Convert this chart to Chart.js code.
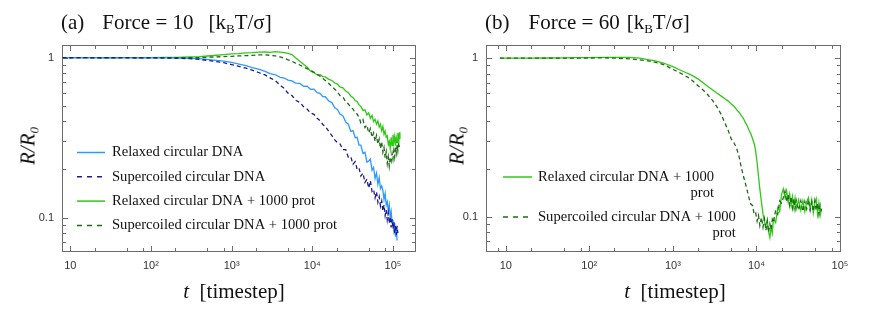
<!DOCTYPE html>
<html>
<head>
<meta charset="utf-8">
<script src="https://cdn.jsdelivr.net/npm/chart.js@4.4.1/dist/chart.umd.min.js"></script>
<style>
  body { margin: 0; background: #fff; }
  #wrap { position: relative; width: 872px; height: 312px; overflow: hidden; font-family: "Liberation Serif", "Times New Roman", serif; color: #111; }
  canvas { position: absolute; top: 0; }
  #chartA { left: 0; }
  #chartB { left: 440px; }
  .lbl { position: absolute; white-space: pre; font-size: 21px; line-height: 1; }
  .ytl { transform: translate(-50%, -50%) rotate(-90deg); font-style: italic; }
  .xtl { transform: translateX(-50%); }
  sub { font-size: 13px; vertical-align: -4px; line-height: 0; }
</style>
</head>
<body>
<div id="wrap">
  <canvas id="chartA" width="440" height="312"></canvas>
  <canvas id="chartB" width="432" height="312"></canvas>

  <div class="lbl" style="left:61px;top:12px">(a)<span style="margin-left:18px">Force = 10</span><span style="margin-left:15px">[k<sub>B</sub>T/σ]</span></div>
  <div class="lbl" style="left:485px;top:12px">(b)<span style="margin-left:19px">Force = 60</span><span style="margin-left:7px">[k<sub>B</sub>T/σ]</span></div>

  <div class="lbl ytl" style="left:28px;top:146px">R/R<sub>0</sub></div>
  <div class="lbl ytl" style="left:457px;top:146px">R/R<sub>0</sub></div>

  <div class="lbl xtl" style="left:234px;top:281px"><i>t</i>  [timestep]</div>
  <div class="lbl xtl" style="left:675px;top:281px"><i>t</i>  [timestep]</div>
</div>

<script>
// panel (a): Force = 10
const T_A = [8, 10, 15, 20, 30, 50, 70, 100, 150, 200,
  300, 400, 500, 600, 800, 1000, 1200, 1500, 1800, 2200,
  2600, 3000, 3500, 4000, 4500, 5000, 5600, 6200, 7000, 7800,
  8600, 9500, 10500, 11500, 12500, 13500, 14500, 16000, 17500, 19000,
  20500, 22000, 24000, 26000, 28000, 30000, 32000, 34000, 36000, 38000,
  40000, 42500, 45000, 47500, 50000, 52500, 55000, 57500, 60000, 62500,
  65000, 67500, 70000, 72500, 75000, 77500, 80000, 82500, 85000, 87500,
  90000, 92500, 95000, 97500, 100000, 102500, 105000, 107500, 110000, 112500,
  115000, 117500, 120000, 122000];

const RELAXED_A = [1.0, 1.0, 0.998, 1.0, 0.999, 1.0, 0.998, 0.999, 0.997, 0.995,
  0.99, 0.985, 0.975, 0.966, 0.952, 0.934, 0.915, 0.893, 0.868, 0.845,
  0.822, 0.796, 0.782, 0.754, 0.746, 0.724, 0.716, 0.694, 0.69, 0.662,
  0.664, 0.634, 0.636, 0.604, 0.598, 0.57, 0.57, 0.536, 0.524, 0.486,
  0.474, 0.444, 0.432, 0.396, 0.384, 0.346, 0.35, 0.316, 0.318, 0.284,
  0.284, 0.252, 0.256, 0.222, 0.226, 0.232, 0.198, 0.206, 0.176, 0.19,
  0.162, 0.178, 0.152, 0.158, 0.148, 0.13, 0.142, 0.12, 0.126, 0.11,
  0.12, 0.1, 0.109, 0.093, 0.097, 0.084, 0.093, 0.076, 0.086, 0.072,
  null, null, null, null];

const SUPER_A = [1.0, 0.999, 1.0, 0.998, 1.0, 0.999, 0.998, 0.997, 0.996, 0.992,
  0.985, 0.975, 0.962, 0.95, 0.93, 0.905, 0.885, 0.86, 0.835, 0.805,
  0.78, 0.748, 0.716, 0.672, 0.642, 0.6, 0.58, 0.542, 0.526, 0.494,
  0.478, 0.452, 0.442, 0.418, 0.404, 0.382, 0.372, 0.346, 0.326, 0.306,
  0.294, 0.29, 0.266, 0.266, 0.238, 0.24, 0.216, 0.224, 0.2, 0.204,
  0.182, 0.19, 0.166, 0.174, 0.153, 0.17, 0.146, 0.15, 0.133, 0.145,
  0.125, 0.135, 0.118, 0.127, 0.11, 0.12, 0.103, 0.112, 0.097, 0.107,
  0.092, 0.101, 0.087, 0.098, 0.085, 0.094, 0.08, 0.09, 0.078, 0.089,
  0.08, null, null, null];

const RELAXED_PROT_A = [1.0, 1.0, 1.0, 1.001, 0.999, 1.0, 1.002, 1.0, 1.003, 1.005,
  1.01, 1.016, 1.024, 1.032, 1.044, 1.055, 1.06, 1.07, 1.074, 1.082,
  1.085, 1.078, 1.09, 1.083, 1.076, 1.062, 1.046, 1.0, 0.95, 0.91,
  0.874, 0.826, 0.804, 0.78, 0.782, 0.762, 0.758, 0.732, 0.72, 0.694,
  0.684, 0.656, 0.648, 0.618, 0.604, 0.576, 0.562, 0.54, 0.532, 0.506,
  0.496, 0.468, 0.472, 0.438, 0.452, 0.418, 0.436, 0.398, 0.412, 0.384,
  0.402, 0.368, 0.384, 0.35, 0.372, 0.332, 0.348, 0.318, 0.324, 0.286,
  0.3, 0.27, 0.318, 0.282, 0.33, 0.298, 0.322, 0.282, 0.316, 0.296,
  0.338, 0.284, 0.342, 0.31];

const SUPER_PROT_A = [1.0, 0.999, 1.0, 1.0, 0.998, 1.0, 0.999, 1.0, 0.998, 1.0,
  1.0, 1.002, 1.005, 1.01, 1.015, 1.02, 1.025, 1.03, 1.035, 1.04,
  1.04, 1.035, 1.025, 1.01, 0.99, 0.97, 0.95, 0.925, 0.90, 0.875,
  0.855, 0.835, 0.81, 0.785, 0.765, 0.74, 0.72, 0.69, 0.66, 0.635,
  0.612, 0.58, 0.566, 0.53, 0.514, 0.488, 0.478, 0.452, 0.444, 0.422,
  0.392, 0.41, 0.366, 0.38, 0.338, 0.36, 0.318, 0.338, 0.3, 0.326,
  0.288, 0.31, 0.27, 0.298, 0.256, 0.274, 0.236, 0.258, 0.218, 0.24,
  0.21, 0.238, 0.226, 0.252, 0.232, 0.262, 0.24, 0.276, 0.254, 0.286,
  0.262, 0.294, 0.276, null];

// panel (b): Force = 60
const T_B = [8.5, 10, 15, 20, 30, 50, 70, 100, 150, 200,
  250, 300, 400, 500, 600, 700, 800, 1000, 1200, 1400,
  1600, 1800, 2000, 2300, 2600, 3000, 3400, 3800, 4200, 4600,
  5000, 5400, 5800, 6200, 6600, 7000, 7400, 7800, 8200, 8600,
  9000, 9400, 9800, 10200, 10600, 11000, 11500, 12000, 12500, 13000,
  13500, 14000, 14500, 15000, 15500, 16000, 17000, 18000, 19000, 20000,
  21000, 22000, 23000, 24000, 25000, 26000, 27000, 28000, 29000, 30000,
  32000, 34000, 36000, 38000, 40000, 42000, 44000, 46000, 48000, 50000,
  52000, 54000, 56000, 58000, 60000];

const RELAXED_PROT_B = [1.0, 1.0, 1.0, 1.001, 1.002, 1.004, 1.006, 1.008, 1.01, 1.012,
  1.012, 1.01, 1.0, 0.98, 0.965, 0.945, 0.925, 0.885, 0.845, 0.815,
  0.79, 0.765, 0.74, 0.70, 0.665, 0.63, 0.60, 0.576, 0.554, 0.536,
  0.514, 0.497, 0.474, 0.456, 0.434, 0.416, 0.392, 0.372, 0.35, 0.332,
  0.31, 0.29, 0.26, 0.22, 0.18, 0.15, 0.124, 0.104, 0.093, 0.088,
  0.095, 0.08, 0.074, 0.086, 0.079, 0.097, 0.092, 0.114, 0.108, 0.138,
  0.15, 0.132, 0.146, 0.124, 0.139, 0.118, 0.134, 0.115, 0.131, 0.112,
  0.128, 0.11, 0.126, 0.108, 0.124, 0.132, 0.112, 0.128, 0.106, 0.122,
  0.13, 0.104, 0.122, 0.102, 0.112];

const SUPER_PROT_B = [1.0, 1.0, 0.999, 1.0, 0.999, 1.0, 1.001, 1.002, 1.003, 1.0,
  0.995, 0.99, 0.975, 0.96, 0.945, 0.925, 0.905, 0.85, 0.81, 0.775,
  0.745, 0.705, 0.67, 0.63, 0.59, 0.54, 0.49, 0.44, 0.39, 0.35,
  0.31, 0.292, 0.27, 0.24, 0.205, 0.18, 0.162, 0.145, 0.13, 0.12,
  0.118, 0.104, 0.106, 0.094, 0.102, 0.088, 0.099, 0.086, 0.097, 0.082,
  0.094, 0.08, 0.09, 0.083, 0.096, 0.092, 0.11, 0.104, 0.126, 0.122,
  0.132, 0.145, 0.124, 0.138, 0.118, 0.134, 0.114, 0.13, 0.112, 0.127,
  0.11, 0.126, 0.108, 0.125, 0.112, 0.128, 0.11, 0.124, 0.108, 0.126,
  0.11, 0.122, 0.104, 0.118, 0.108];

// ticks
const X_TICKS = [10, 100, 1000, 10000, 100000];
const X_LABELS = ['10', '10²', '10³', '10⁴', '10⁵'];
const X_MINOR = [8, 20, 50, 80, 200, 500, 800, 2000, 5000, 8000, 20000, 50000, 80000];
const Y_TICKS = [0.1, 1];
const Y_LABELS = ['0.1', '1'];
const Y_MINOR = [0.07, 0.08, 0.09, 0.2, 0.3, 0.4, 0.5, 0.6, 0.7, 0.8, 0.9];

const LABELS = ['Relaxed circular DNA', 'Supercoiled circular DNA',
  'Relaxed circular DNA + 1000 prot', 'Supercoiled circular DNA + 1000 prot'];

const C_BLUE = '#2f98ff';
const C_NAVY = '#1b1b95';
const C_GREEN = '#2fc815';
const C_DKGREEN = '#1d6b14';

function pts(ts, rs) {
    return ts.map((t, i) => ({ x: t, y: rs[i] })).filter(p => p.y != null);
}

function line(label, ts, rs, color, dashed) {
    return {
        label: label,
        data: pts(ts, rs),
        borderColor: color,
        borderWidth: 1.3,
        borderDash: dashed ? [4, 3] : [],
        pointRadius: 0,
        tension: 0,
        order: dashed ? 0 : 1
    };
}

// box with inward ticks on all four sides
const frame = {
    id: 'frame',
    beforeDatasetsDraw(chart) {
        const { ctx, chartArea: a, scales: { x, y } } = chart;
        ctx.save();
        ctx.strokeStyle = '#6c6c6c';
        ctx.lineWidth = 1;
        ctx.strokeRect(a.left + 0.5, a.top + 0.5, a.width - 1, a.height - 1);
        ctx.beginPath();
        const xt = (vals, len) => vals.forEach(v => {
            if (v <= x.min || v >= x.max) return;
            const px = Math.round(x.getPixelForValue(v)) + 0.5;
            ctx.moveTo(px, a.bottom); ctx.lineTo(px, a.bottom - len);
            ctx.moveTo(px, a.top); ctx.lineTo(px, a.top + len);
        });
        const yt = (vals, len) => vals.forEach(v => {
            if (v <= y.min || v >= y.max) return;
            const py = Math.round(y.getPixelForValue(v)) + 0.5;
            ctx.moveTo(a.left, py); ctx.lineTo(a.left + len, py);
            ctx.moveTo(a.right, py); ctx.lineTo(a.right - len, py);
        });
        xt(X_TICKS, 6); xt(X_MINOR, 4);
        yt(Y_TICKS, 6); yt(Y_MINOR, 4);
        ctx.stroke();
        ctx.restore();
    }
};

// legend inside the plot area; a label that is too long puts its last word
// on a second line, right aligned under the end of the first one
const boxLegend = {
    id: 'boxLegend',
    afterDatasetsDraw(chart, args, o) {
        const { ctx, chartArea: a } = chart;
        ctx.save();
        ctx.font = '14.6px "Liberation Serif", serif';
        ctx.fillStyle = '#111';
        ctx.textBaseline = 'middle';
        let y = a.top + o.top;
        chart.data.datasets.forEach(ds => {
            let lines = [ds.label];
            if (ctx.measureText(ds.label).width > o.maxWidth) {
                const cut = ds.label.lastIndexOf(' ');
                lines = [ds.label.slice(0, cut), ds.label.slice(cut + 1)];
            }

            const x0 = a.left + o.left;
            ctx.save();
            ctx.strokeStyle = ds.borderColor;
            ctx.lineWidth = 1.5;
            ctx.setLineDash(ds.borderDash.length ? [5, 5] : []);
            ctx.beginPath();
            ctx.moveTo(x0, y); ctx.lineTo(x0 + o.sample, y);
            ctx.stroke();
            ctx.restore();

            const tx = x0 + o.sample + o.gap;
            const w0 = ctx.measureText(lines[0]).width;
            lines.forEach((ln, k) => {
                ctx.textAlign = k === 0 ? 'left' : 'right';
                ctx.fillText(ln, k === 0 ? tx : tx + w0, y + k * o.lineH);
            });
            y += lines.length * o.lineH + o.rowGap;
        });
        ctx.restore();
    }
};

function makeOptions(xMin, xMax, yMin, yMax, yWidth, padRight, legend) {
    return {
        responsive: false,
        animation: false,
        events: [],
        layout: { padding: { top: 45, right: padRight, left: 0, bottom: 0 } },
        plugins: {
            legend: { display: false },
            tooltip: { enabled: false },
            boxLegend: legend
        },
        scales: {
            x: {
                type: 'logarithmic',
                min: xMin, max: xMax,
                grid: { display: false, drawTicks: false },
                border: { display: false },
                afterBuildTicks: s => { s.ticks = X_TICKS.map(v => ({ value: v })); },
                afterFit: s => { s.height = 60; },
                ticks: {
                    autoSkip: false, maxRotation: 0, padding: 7, color: '#333',
                    font: { family: '"Liberation Sans", sans-serif', size: 11 },
                    callback: v => X_LABELS[X_TICKS.indexOf(v)] ?? ''
                }
            },
            y: {
                type: 'logarithmic',
                min: yMin, max: yMax,
                grid: { display: false, drawTicks: false },
                border: { display: false },
                afterBuildTicks: s => { s.ticks = Y_TICKS.map(v => ({ value: v })); },
                afterFit: s => { s.width = yWidth; },
                ticks: {
                    padding: 8, color: '#333',
                    font: { family: '"Liberation Sans", sans-serif', size: 11 },
                    callback: v => Y_LABELS[Y_TICKS.indexOf(v)] ?? ''
                }
            }
        }
    };
}

new Chart(document.getElementById('chartA').getContext('2d'), {
    type: 'line',
    data: {
        datasets: [
            line(LABELS[0], T_A, RELAXED_A, C_BLUE, false),
            line(LABELS[1], T_A, SUPER_A, C_NAVY, true),
            line(LABELS[2], T_A, RELAXED_PROT_A, C_GREEN, false),
            line(LABELS[3], T_A, SUPER_PROT_A, C_DKGREEN, true)
        ]
    },
    options: makeOptions(7.9, 193000, 0.061, 1.2, 62, 24,
        { left: 15, top: 107.5, sample: 28, gap: 7, lineH: 16, rowGap: 8.3, maxWidth: 1000 }),
    plugins: [frame, boxLegend]
});

new Chart(document.getElementById('chartB').getContext('2d'), {
    type: 'line',
    data: {
        datasets: [
            line(LABELS[2], T_B, RELAXED_PROT_B, C_GREEN, false),
            line(LABELS[3], T_B, SUPER_PROT_B, C_DKGREEN, true)
        ]
    },
    options: makeOptions(5.8, 103000, 0.06, 1.21, 46, 31,
        { left: 17, top: 132, sample: 29, gap: 6, lineH: 16, rowGap: 8, maxWidth: 185 }),
    plugins: [frame, boxLegend]
});
</script>
</body>
</html>
